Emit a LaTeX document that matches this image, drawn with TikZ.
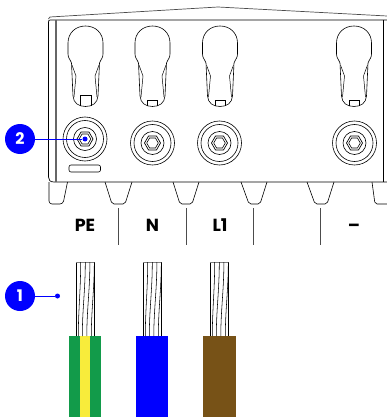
\documentclass[tikz,border=0pt]{standalone}
\usepackage{fontspec}
\setmainfont{Poppins}
\definecolor{callblue}{RGB}{0,0,255}
\definecolor{wiregreen}{RGB}{18,155,74}
\definecolor{wireyellow}{RGB}{248,236,59}
\definecolor{wirebrown}{RGB}{119,82,23}
\tikzset{
	callout/.style={circle, fill=callblue, text=white, inner sep=0pt, minimum size=30pt, font=\bfseries\fontsize{16}{16}\selectfont},
	leader/.style={draw=callblue, line width=0.9pt},
	leaddot/.style={circle, fill=callblue, inner sep=0pt, minimum size=5pt},
	pole/.style={font=\bfseries\fontsize{17.5}{17.5}\selectfont, inner sep=0pt, anchor=base},
	keyhole/.pic={
		\draw[line width=0.6pt] (0,26) .. controls (-10,26) and (-17.5,33) .. (-17.5,43) -- (-17.5,54) .. controls (-17.5,58) and (-15.5,59) .. (-14,63) -- (-12.5,96) .. controls (-12,103) and (-7,106.5) .. (0,106.5) .. controls (7,106.5) and (12,103) .. (12.5,96) -- (14,63) .. controls (15.5,59) and (17.5,58) .. (17.5,54) -- (17.5,43) .. controls (17.5,33) and (10,26) .. (0,26) -- cycle;
		\draw[line width=0.5pt] (-13.5,65) -- (-9.5,76) -- (-11.5,97);
		\draw[line width=0.5pt] (13.5,65) -- (9.5,76) -- (11.5,97);
	},
	terminal/.pic={
		\foreach \rad in {22,18.5,11.5}{\draw[line width=0.6pt] (0,0) circle (\rad);}
		\draw[line width=0.7pt] (0:8) -- (60:8) -- (120:8) -- (180:8) -- (240:8) -- (300:8) -- cycle;
		\draw[line width=0.6pt] (0:5.8) -- (60:5.8) -- (120:5.8) -- (180:5.8) -- (240:5.8) -- (300:5.8) -- cycle;
	},
	strands/.pic={
		%Outer strands
		\draw[line width=0.7pt] (-9.3,262) -- (-9.3,336);
		\draw[line width=0.7pt] (9.3,262) -- (9.3,336);
		\draw[line width=0.7pt, black!50] (-9.5,262) -- (9.5,262);
		%Twisted strands
		\foreach \top/\bot in {-4.6/-7, 0/-3, 4.6/1.5, 9/6}{
			\draw[line width=0.55pt] (\top,262) .. controls (\top,290) and (\bot,310) .. (\bot,336);
		}
	}
}
\begin{document}
\begin{tikzpicture}[x=1pt,y=-1pt]
	\useasboundingbox (0,0) rectangle (387,417);

	%Housing
	\draw[line width=0.7pt, black!70] (48.5,19) -- (50,17) -- (218,7) -- (387,16);
	\draw[line width=0.7pt] (387,20) -- (51,20) .. controls (49,20) and (48.5,20) .. (48.5,22) -- (48.5,177) .. controls (48.5,180) and (50,182) .. (54,182) -- (387,182);
	\draw[line width=1.5pt, black!60] (56,20) -- (56,182);
	\draw[line width=0.7pt] (383,20) -- (383,182);
	\draw[line width=0.6pt, rounded corners=2pt] (69,165) rectangle (100.5,172);

	%Feet
	\draw[line width=0.6pt, rounded corners=3pt] (49,182) -- (49,204) -- (63,204) -- (67.5,182);
	\foreach \lft/\lbot/\rbot/\rgt in {105/112/125/132, 173/180/192/199, 241/249/260/267, 307/315/327/334}{
		\draw[line width=0.6pt, rounded corners=2pt] (\lft,182) -- (\lbot,204) -- (\rbot,204) -- (\rgt,182);
	}
	\draw[line width=0.6pt, rounded corners=2pt] (372,182) -- (375,204) -- (387,204);

	%Key holes
	\foreach \cx in {85.5,152.5,220,354}{
		\pic at (\cx,0) {keyhole};
	}
	\draw[line width=0.6pt] (80,106) -- (80,95.5) -- (91,95.5) -- (91,106);
	\foreach \cx in {152.5,220,354}{
		\draw[line width=0.6pt] (\cx-5,106) -- (\cx-5,100) -- (\cx+5,100) -- (\cx+5,106);
	}

	%Terminals
	\pic at (85,139) {terminal};
	\pic at (152.5,143) {terminal};
	\pic at (219.5,143) {terminal};
	\pic at (354.5,143) {terminal};

	%Pole labels
	\node[pole] (labelPE) at (85,231) {PE};
	\node[pole] (labelN) at (152.5,231) {N};
	\node[pole] (labelL) at (220,231) {L1};
	\node[pole] (labelMinus) at (354,231) {–};
	\foreach \sx in {118.5,186,253,320}{
		\draw[line width=0.7pt, black!70] (\sx,208) -- (\sx,245);
	}

	%Wires
	\fill[wiregreen] (69,336) rectangle (101,417);
	\fill[wireyellow] (80,336) rectangle (90,417);
	\fill[callblue] (136,336) rectangle (168,417);
	\fill[wirebrown] (203,336) rectangle (236,417);
	\pic at (85.3,0) {strands};
	\pic at (152.3,0) {strands};
	\pic at (219.3,0) {strands};

	%Call outs
	\node[callout] (badgeTwo) at (20,139) {2};
	\node[leaddot] (dotTwo) at (85,139) {};
	\draw[leader] (badgeTwo) -- (dotTwo);
	\node[callout] (badgeOne) at (20,296) {1};
	\node[leaddot] (dotOne) at (57.5,296) {};
	\draw[leader] (badgeOne) -- (dotOne);
\end{tikzpicture}
\end{document}
